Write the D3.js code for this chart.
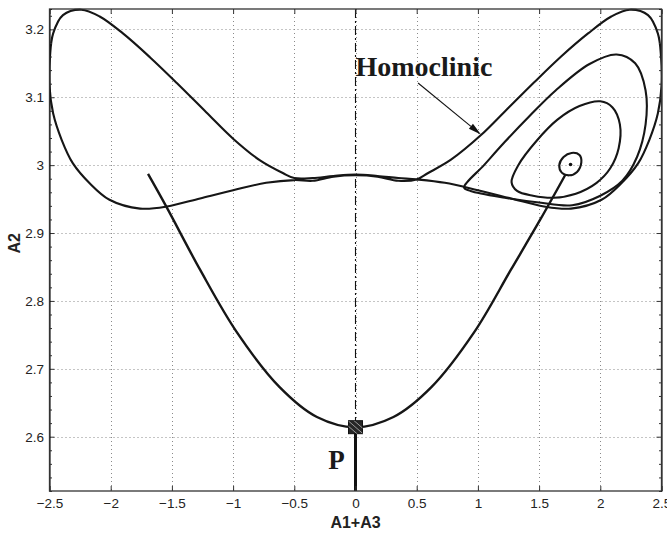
<!DOCTYPE html>
<html><head><meta charset="utf-8">
<script src="https://cdn.jsdelivr.net/npm/d3@7"></script>
<style>body{margin:0;background:#fff}svg{display:block}</style>
</head><body><svg id="c" width="667" height="533"></svg>
<script>
// ---- data ----
const xTickValues = [-2.5,-2,-1.5,-1,-0.5,0,0.5,1,1.5,2,2.5];
const xTickLabels = ["\u22122.5","\u22122","\u22121.5","\u22121","\u22120.5","0","0.5","1","1.5","2","2.5"];
const yTickValues = [2.6,2.7,2.8,2.9,3.0,3.1,3.2];
const yTickLabels = ["2.6","2.7","2.8","2.9","3","3.1","3.2"];
const xDomain = [-2.5, 2.5];
const yDomain = [2.52, 3.23];

// big figure-eight (homoclinic) orbit, closed
const outerLoop = [
  [0.50,2.979],[0.35,2.981],[0.18,2.984],[0.00,2.986],[-0.18,2.984],[-0.35,2.981],[-0.50,2.981],
  [-0.59,2.988],[-0.78,3.007],[-1.00,3.039],[-1.22,3.078],[-1.46,3.121],[-1.68,3.159],[-1.90,3.194],
  [-2.09,3.219],[-2.24,3.229],[-2.39,3.221],[-2.47,3.194],[-2.496,3.160],[-2.50,3.116],[-2.47,3.076],
  [-2.40,3.037],[-2.31,3.003],[-2.17,2.973],[-2.01,2.949],[-1.76,2.936],[-1.54,2.939],[-1.27,2.951],
  [-1.00,2.963],[-0.73,2.974],[-0.50,2.978],
  [-0.35,2.977],[-0.18,2.983],[0.00,2.985],[0.18,2.983],[0.35,2.977],[0.50,2.979],
  [0.59,2.988],[0.78,3.008],[1.03,3.045],[1.22,3.079],[1.46,3.122],[1.68,3.160],[1.90,3.194],
  [2.09,3.219],[2.24,3.229],[2.39,3.221],[2.47,3.194],[2.496,3.160],[2.50,3.116],[2.47,3.076],
  [2.40,3.037],[2.31,3.003],[2.17,2.973],[2.01,2.949],[1.76,2.936],[1.54,2.939],[1.27,2.951],
  [1.00,2.963],[0.73,2.974]
];
const loop2 = [
  [0.887,2.967],[1.05,3.000],[1.219,3.034],[1.42,3.072],[1.635,3.110],[1.912,3.149],[2.133,3.163],
  [2.285,3.150],[2.37,3.110],[2.37,3.060],[2.30,3.012],[2.18,2.977],[2.00,2.955],[1.77,2.941],
  [1.50,2.945],[1.22,2.952],[0.94,2.962]
];
const loop3 = [
  [1.275,2.975],[1.33,3.000],[1.48,3.036],[1.65,3.067],[1.83,3.087],[2.00,3.094],[2.10,3.085],
  [2.16,3.060],[2.15,3.025],[2.08,2.995],[1.97,2.974],[1.80,2.958],[1.62,2.952],[1.45,2.955],[1.32,2.962]
];
const smallCycle = [
  [1.665,3.000],[1.700,3.012],[1.765,3.018],[1.830,3.015],[1.845,3.004],[1.810,2.990],[1.745,2.985],[1.685,2.989]
];
const equilibrium = [1.757, 3.001];
const pCurve = [
  [-1.695,2.987],[-1.54,2.937],[-1.27,2.846],[-0.97,2.754],[-0.62,2.673],[-0.315,2.629],[0.00,2.614],
  [0.31,2.629],[0.62,2.673],[0.97,2.754],[1.27,2.846],[1.51,2.920],[1.718,2.987]
];
const pPoint = [0, 2.614];
const pStem = [[0, 2.614], [0, 2.52]];
const symAxis = [[0, 3.23], [0, 2.614]];
const homoLabel = {text: "Homoclinic", x: 0.0, y: 3.131};
const homoArrow = {from: [0.511, 3.121], to: [1.025, 3.045]};
const pLabel = {text: "P", x: -0.155, y: 2.553};
const xTitle = "A1+A3", yTitle = "A2";

// ---- drawing ----
const svg = d3.select("#c");
const L = 49.5, R = 661.5, T = 9, B = 491;
const x = d3.scaleLinear().domain(xDomain).range([L, R]);
const y = d3.scaleLinear().domain(yDomain).range([B, T]);
const sans = "'Liberation Sans', Arial, Helvetica, sans-serif";
const serif = "'Liberation Serif', 'Times New Roman', serif";

// grid
const g = svg.append("g");
g.selectAll("line.gx").data(xTickValues.slice(1, -1)).join("line")
  .attr("x1", d => Math.round(x(d)) + 0.5).attr("x2", d => Math.round(x(d)) + 0.5)
  .attr("y1", T).attr("y2", B)
  .attr("stroke", "#8a8a8a").attr("stroke-width", 1).attr("stroke-dasharray", "1,3");
g.selectAll("line.gy").data(yTickValues).join("line")
  .attr("y1", d => Math.round(y(d)) + 0.5).attr("y2", d => Math.round(y(d)) + 0.5)
  .attr("x1", L).attr("x2", R)
  .attr("stroke", "#8a8a8a").attr("stroke-width", 1).attr("stroke-dasharray", "1,3");

// clip
svg.append("clipPath").attr("id", "clip").append("rect")
  .attr("x", L).attr("y", T - 2).attr("width", R - L).attr("height", B - T + 2);
const plot = svg.append("g").attr("clip-path", "url(#clip)");

// dash-dot symmetry line
plot.append("path")
  .attr("d", d3.line().x(d => x(d[0])).y(d => y(d[1]))(symAxis))
  .attr("stroke", "#111").attr("stroke-width", 1.1).attr("fill", "none")
  .attr("stroke-dasharray", "9,3,2,3");

const closedLine = d3.line().x(d => x(d[0])).y(d => y(d[1])).curve(d3.curveCatmullRomClosed.alpha(0.5));
const openLine = d3.line().x(d => x(d[0])).y(d => y(d[1])).curve(d3.curveCatmullRom.alpha(0.5));

[outerLoop, loop2, loop3].forEach(arr => {
  plot.append("path").attr("d", closedLine(arr))
    .attr("fill", "none").attr("stroke", "#161616").attr("stroke-width", 2.1)
    .attr("stroke-linejoin", "round");
});
plot.append("path").attr("d", closedLine(smallCycle))
  .attr("fill", "none").attr("stroke", "#161616").attr("stroke-width", 2.1);
plot.append("circle").attr("cx", x(equilibrium[0])).attr("cy", y(equilibrium[1])).attr("r", 1.8).attr("fill", "#111");

plot.append("path").attr("d", openLine(pCurve))
  .attr("fill", "none").attr("stroke", "#161616").attr("stroke-width", 2.4);

plot.append("path")
  .attr("d", d3.line().x(d => x(d[0])).y(d => y(d[1]))(pStem))
  .attr("stroke", "#111").attr("stroke-width", 3).attr("fill", "none");

// P marker (hatched square)
const px = x(pPoint[0]), py = y(pPoint[1]);
const mk = svg.append("g");
mk.append("clipPath").attr("id", "mclip").append("rect")
  .attr("x", px - 7).attr("y", py - 6.5).attr("width", 14).attr("height", 13);
mk.append("rect").attr("x", px - 7).attr("y", py - 6.5).attr("width", 14).attr("height", 13)
  .attr("fill", "#262626").attr("stroke", "#111").attr("stroke-width", 1);
const hatch = mk.append("g").attr("clip-path", "url(#mclip)");
[-6, 0, 6].forEach(o => {
  hatch.append("line").attr("x1", px - 8 + o).attr("y1", py - 7).attr("x2", px + 8 + o).attr("y2", py + 7)
    .attr("stroke", "#9a9a9a").attr("stroke-width", 1);
});

// annotations
svg.append("text").attr("x", x(homoLabel.x)).attr("y", y(homoLabel.y))
  .attr("font-family", serif).attr("font-weight", "bold").attr("font-size", 28)
  .attr("fill", "#1a1a1a").text(homoLabel.text);
{
  const x1 = x(homoArrow.from[0]), y1 = y(homoArrow.from[1]);
  const x2 = x(homoArrow.to[0]), y2 = y(homoArrow.to[1]);
  const ang = Math.atan2(y2 - y1, x2 - x1);
  const len = 13, w = 3.2;
  const bx = x2 - len * Math.cos(ang), by = y2 - len * Math.sin(ang);
  svg.append("line").attr("x1", x1).attr("y1", y1).attr("x2", bx).attr("y2", by)
    .attr("stroke", "#111").attr("stroke-width", 1.1);
  svg.append("path").attr("d",
    `M${x2},${y2}L${bx + w * Math.sin(ang)},${by - w * Math.cos(ang)}L${bx - w * Math.sin(ang)},${by + w * Math.cos(ang)}Z`)
    .attr("fill", "#111");
}
svg.append("text").attr("x", x(pLabel.x)).attr("y", y(pLabel.y)).attr("text-anchor", "middle")
  .attr("font-family", serif).attr("font-weight", "bold").attr("font-size", 27)
  .attr("fill", "#1a1a1a").text(pLabel.text);

// axes (MATLAB style: ticks inward on all sides)
const axColor = "#333";
const xAxis = d3.axisBottom(x).tickValues(xTickValues).tickSize(-5).tickPadding(7)
  .tickFormat((d, i) => xTickLabels[i]);
const yAxis = d3.axisLeft(y).tickValues(yTickValues).tickSize(-5).tickPadding(5.5)
  .tickFormat((d, i) => yTickLabels[i]);
const gx = svg.append("g").attr("transform", `translate(0,${B})`).call(xAxis);
const gy = svg.append("g").attr("transform", `translate(${L},0)`).call(yAxis);
const gxt = svg.append("g").attr("transform", `translate(0,${T})`)
  .call(d3.axisTop(x).tickValues(xTickValues).tickSize(-5).tickFormat(""));
const gyr = svg.append("g").attr("transform", `translate(${R},0)`)
  .call(d3.axisRight(y).tickValues(yTickValues).tickSize(-5).tickFormat(""));
const yMinor = d3.range(2.52, 3.231, 0.02).filter(v => !yTickValues.some(t => Math.abs(t - v) < 1e-6));
svg.append("g").attr("transform", `translate(${L},0)`)
  .call(d3.axisLeft(y).tickValues(yMinor).tickSize(-2.5).tickFormat(""));
svg.append("g").attr("transform", `translate(${R},0)`)
  .call(d3.axisRight(y).tickValues(yMinor).tickSize(-2.5).tickFormat(""));
[gx, gy, gxt, gyr].forEach(a => a.select(".domain").remove());
svg.selectAll(".tick line").attr("stroke", axColor);
svg.selectAll(".tick text").attr("font-family", sans).attr("font-size", 13.5).attr("fill", "#222");
svg.append("rect").attr("x", L).attr("y", T).attr("width", R - L).attr("height", B - T)
  .attr("fill", "none").attr("stroke", axColor).attr("stroke-width", 1.3);

svg.append("text").attr("x", (L + R) / 2).attr("y", 528).attr("text-anchor", "middle")
  .attr("font-family", sans).attr("font-weight", "bold").attr("font-size", 16)
  .attr("fill", "#222").text(xTitle);
svg.append("text").attr("transform", `translate(20,${y(2.885)}) rotate(-90)`).attr("text-anchor", "middle")
  .attr("font-family", sans).attr("font-weight", "bold").attr("font-size", 16)
  .attr("fill", "#222").text(yTitle);
</script></body></html>
